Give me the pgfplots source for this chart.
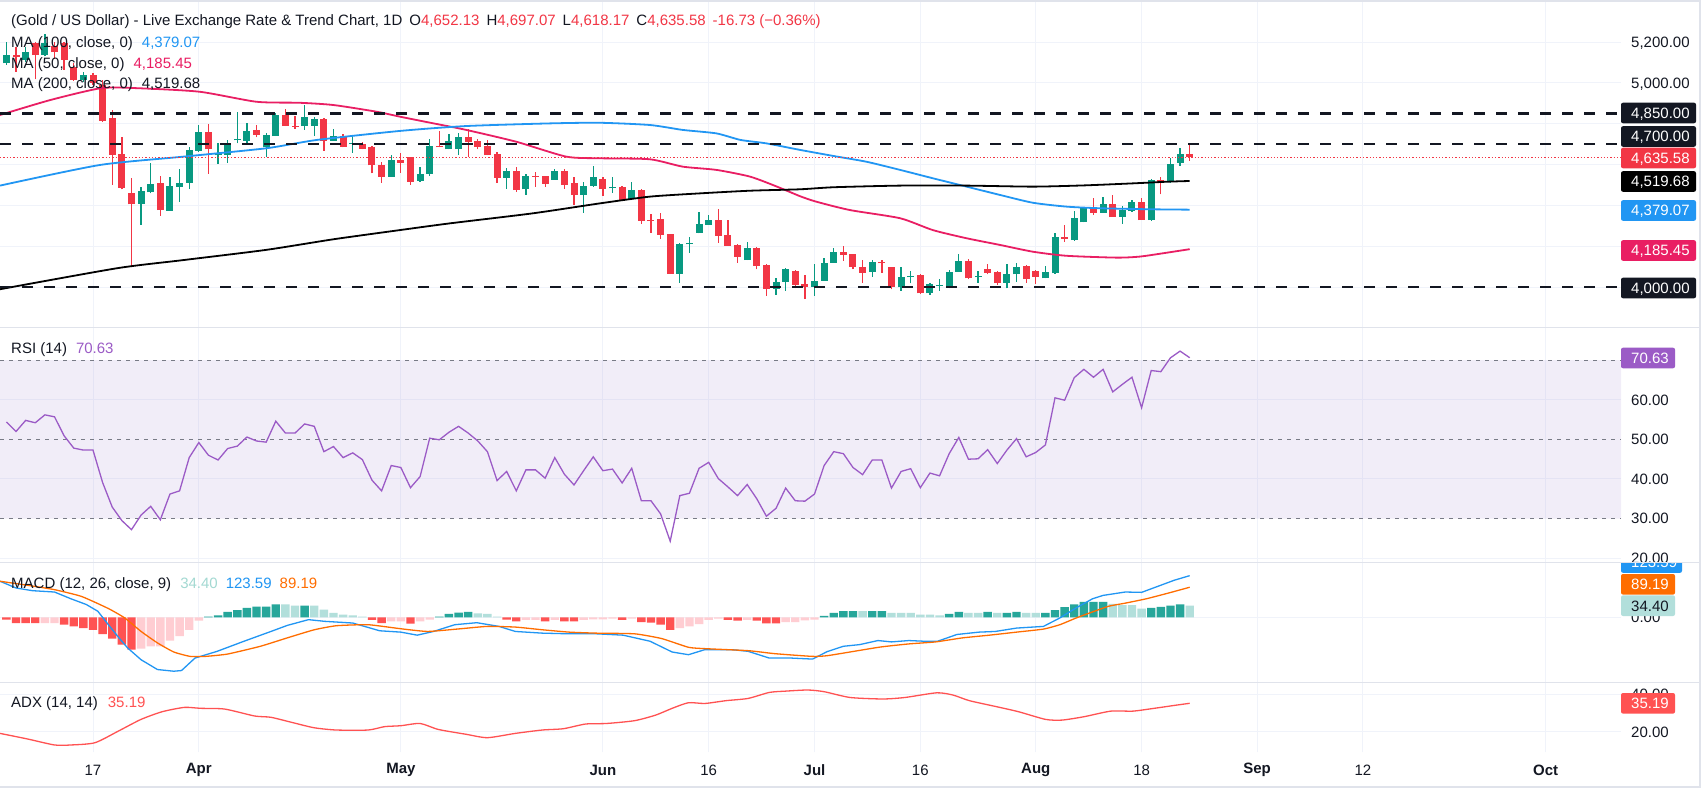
\documentclass[border=0pt]{standalone}
\usepackage{pgfplots}
\pgfplotsset{compat=1.18}
\usepackage{pgfplotstable}
\usepackage{fontspec}
\setmainfont{Liberation Sans}
\definecolor{tvgreen}{HTML}{089981}
\definecolor{tvred}{HTML}{F23645}
\definecolor{mablue}{HTML}{2196F3}
\definecolor{mapink}{HTML}{E91E63}
\definecolor{darktxt}{HTML}{131722}
\definecolor{boxdark}{HTML}{131722}
\definecolor{gridc}{HTML}{F0F3FA}
\definecolor{sepc}{HTML}{E0E3EB}
\definecolor{rsic}{HTML}{9B5BC6}
\definecolor{rsib}{HTML}{7E57C2}
\definecolor{rsidash}{HTML}{787B86}
\definecolor{hgreen}{HTML}{26A69A}
\definecolor{hteal}{HTML}{B2DFDB}
\definecolor{htealtxt}{HTML}{A3D9D2}
\definecolor{hred}{HTML}{FF5252}
\definecolor{hpink}{HTML}{FFCDD2}
\definecolor{macdorange}{HTML}{FF6D00}
\definecolor{adxred}{HTML}{FF5252}
\newcommand{\lab}{\fontsize{15pt}{18pt}\selectfont}
\newcommand{\pbox}[5][75]{\fill[#3, rounded corners=2pt] (1621pt,-#2pt) ++(0,10.3pt) rectangle ++(#1pt,-20.6pt);
  \node[anchor=base west, inner sep=0pt, text=#4, font=\lab] at ([yshift=-5.3pt]1631pt,-#2pt) {#5};}
\newcommand{\plab}[2]{\node[anchor=base west, inner sep=0pt, text=darktxt, font=\lab] at ([yshift=-5.3pt]1631pt,-#1pt) {#2};}

\pgfplotstableread{
i o h l c
-9 5096 5203 5090 5137
-7 5113 5178 5105 5154
-5 5137 5240 5130 5194
-1 5015 5055 5005 5040
5 4409 4492 4304 4471
6 4464 4606 4459 4505
8 4374 4541 4374 4495
9 4492 4577 4417 4510
10 4511 4685 4480 4672
11 4667 4794 4663 4760
13 4645 4704 4603 4652
14 4649 4721 4610 4704
15 4719 4858 4704 4724
16 4717 4802 4704 4765
18 4685 4753 4636 4745
19 4740 4851 4740 4843
22 4789 4892 4770 4832
23 4791 4832 4740 4825
25 4717 4775 4717 4740
27 4701 4740 4658 4707
31 4541 4647 4541 4622
34 4521 4590 4516 4554
35 4554 4724 4544 4691
37 4675 4750 4675 4716
38 4675 4753 4647 4737
43 4536 4582 4482 4569
45 4479 4554 4453 4544
48 4525 4577 4525 4569
51 4451 4513 4364 4497
52 4497 4593 4492 4541
54 4484 4539 4462 4492
56 4431 4513 4426 4475
61 4064 4217 4021 4211
62 4209 4245 4168 4217
63 4266 4369 4263 4309
64 4304 4351 4304 4328
68 4132 4220 4132 4189
71 3992 4042 3961 4023
72 4025 4092 3982 4088
75 4002 4113 3957 4029
76 4031 4140 4031 4116
77 4119 4190 4119 4170
81 4075 4132 4051 4121
84 3998 4096 3982 4047
85 4047 4080 4018 4055
87 3969 4018 3961 4013
88 4005 4039 3982 4011
89 4002 4083 3993 4073
90 4075 4162 4075 4127
92 4047 4080 4021 4052
95 4021 4113 3993 4062
96 4062 4119 4026 4100
99 4042 4103 4042 4075
100 4067 4266 4064 4243
102 4230 4374 4227 4338
103 4317 4394 4317 4389
105 4364 4443 4364 4407
107 4345 4397 4309 4377
108 4372 4426 4369 4417
110 4328 4528 4325 4525
112 4517 4631 4511 4603
113 4610 4681 4595 4652
}\upT

\pgfplotstableread{
i o h l c
-8 5137 5178 5056 5126
-6 5194 5203 5018 5137
-4 5180 5200 5120 5150
-3 5194 5200 5064 5113
-2 5080 5096 5011 5015
0 5040 5047 4990 5000
1 4990 5015 4810 4815
2 4827 4868 4500 4647
3 4652 4737 4479 4487
4 4459 4536 4096 4405
7 4510 4544 4350 4377
12 4760 4799 4554 4675
17 4770 4794 4734 4747
20 4843 4871 4789 4791
21 4791 4838 4775 4786
24 4824 4828 4668 4717
26 4740 4750 4685 4688
28 4701 4712 4675 4678
29 4686 4690 4557 4596
30 4598 4614 4511 4541
32 4622 4658 4560 4609
33 4637 4637 4500 4516
36 4691 4765 4685 4685
39 4734 4773 4639 4712
40 4716 4724 4675 4688
41 4691 4721 4647 4647
42 4652 4663 4511 4536
44 4569 4588 4466 4475
46 4546 4565 4492 4541
47 4544 4544 4492 4505
49 4569 4577 4482 4500
50 4508 4538 4402 4451
53 4530 4541 4448 4482
55 4492 4495 4426 4426
57 4475 4479 4309 4324
58 4328 4356 4266 4323
59 4332 4361 4235 4257
60 4260 4260 4064 4064
65 4328 4381 4217 4252
66 4255 4328 4201 4201
67 4206 4209 4119 4149
69 4193 4198 4087 4103
70 4108 4113 3956 3992
73 4080 4083 3993 4010
74 4015 4059 3940 4002
78 4170 4201 4129 4157
79 4162 4162 4088 4100
80 4100 4132 4021 4070
82 4121 4132 4070 4116
83 4096 4100 3988 3998
86 4057 4062 3966 3969
91 4127 4136 4039 4042
93 4088 4113 4062 4070
94 4075 4080 4010 4021
97 4103 4108 4021 4038
98 4080 4083 4015 4051
101 4243 4304 4222 4235
104 4389 4438 4353 4364
106 4407 4453 4345 4345
109 4417 4435 4328 4328
111 4525 4538 4454 4516
114 4652.13 4697.07 4618.17 4635.58
}\dnT

\pgfplotsset{tvaxis/.style={scale only axis, width=1621pt, xmin=-9.6674, xmax=158.836,
  axis line style={draw=none}, tick style={draw=none},
  xtick={0,11,32,53,64,75,86,98,109,121,132,151},
  xticklabels={}, yticklabels={}, grid=major,
  major grid style={draw=gridc, line width=1pt}, anchor=north west}}

\begin{document}
\begin{tikzpicture}
\fill[white] (0,0) rectangle (1702pt,-791pt);

% ---------------- price panel
\begin{axis}[tvaxis, at={(0pt,-2pt)}, height=325.7pt, ymin=3800.5, ymax=5397.06,
  ytick={4000,4200,4400,4600,4800,5000,5200}]
\addplot[draw=none, mark=none, forget plot, error bars/.cd, y dir=plus, y explicit, error mark=none,
  error bar style={draw=tvgreen, line width=1.3pt}]
  table[x=i, y=l, y error plus expr=\thisrow{h}-\thisrow{l}] {\upT};
\addplot[draw=none, mark=none, forget plot, error bars/.cd, y dir=plus, y explicit, error mark=none,
  error bar style={draw=tvred, line width=1.3pt}]
  table[x=i, y=l, y error plus expr=\thisrow{h}-\thisrow{l}] {\dnT};
\addplot[draw=none, mark=none, forget plot, error bars/.cd, y dir=plus, y explicit, error mark=none,
  error bar style={draw=tvgreen, line width=7pt}]
  table[x=i, y=o, y error plus expr=\thisrow{c}-\thisrow{o}] {\upT};
\addplot[draw=none, mark=none, forget plot, error bars/.cd, y dir=plus, y explicit, error mark=none,
  error bar style={draw=tvred, line width=7pt}]
  table[x=i, y=c, y error plus expr=\thisrow{o}-\thisrow{c}] {\dnT};
% MA 50
\addplot[mapink, line width=1.8pt, smooth, tension=0.4, mark=none] coordinates {
(-9.67,4843) (-4.4,4917) (0.9,4975) (4.9,4974) (11.1,4957) (17,4908) (21.5,4903) (25,4892) (29.5,4859) (31.9,4835) (35.4,4802) (38.8,4770) (44,4712) (49.2,4639) (52.7,4631) (57.9,4626) (61.3,4590) (64.8,4574) (68.3,4541) (71.1,4492) (73.5,4445) (75.2,4418) (78.7,4377) (83.9,4337) (87.3,4279) (90.8,4239) (94.3,4206) (97.7,4173) (101.2,4153) (106.4,4144) (108.8,4149) (111.6,4168) (114,4185.45)};
% MA 100
\addplot[mablue, line width=1.8pt, smooth, tension=0.4, mark=none] coordinates {
(-9.67,4497) (0.7,4598) (9.4,4639) (18,4680) (23.3,4721) (31.9,4765) (38.8,4789) (47.5,4802) (52.7,4805) (57.9,4794) (61.3,4770) (64.8,4753) (67.3,4721) (70,4704) (73.5,4672) (77,4642) (80.4,4614) (83.9,4574) (87.3,4533) (90.8,4492) (94.3,4451) (97.7,4413) (101.2,4394) (104.7,4386) (109.9,4381) (114,4379.07)};
% MA 200
\addplot[black, line width=1.8pt, smooth, tension=0.4, mark=none] coordinates {
(-9.67,3989) (2.5,4092) (9.4,4132) (18,4182) (25,4234) (31.9,4279) (37.1,4312) (45.7,4361) (52.7,4410) (57.9,4443) (63.1,4459) (68.3,4472) (73.5,4479) (77,4489) (83.9,4497) (90.8,4497) (97.7,4492) (103,4498) (108.1,4508) (111.6,4516) (114,4519.68)};
% horizontal levels
\addplot[boxdark, line width=2.4pt, dash pattern=on 11pt off 11pt, mark=none] coordinates {(-9.6674,4850) (158.836,4850)};
\addplot[boxdark, line width=2.4pt, dash pattern=on 11pt off 11pt, mark=none] coordinates {(-9.6674,4700) (158.836,4700)};
\addplot[boxdark, line width=2.4pt, dash pattern=on 11pt off 11pt, mark=none] coordinates {(-9.6674,4000) (158.836,4000)};
\addplot[tvred, line width=1pt, dash pattern=on 1.3pt off 2pt, mark=none] coordinates {(-9.6674,4635.58) (158.836,4635.58)};
\end{axis}

% ---------------- RSI panel
\begin{axis}[tvaxis, at={(0pt,-327.7pt)}, height=234.6pt, ymin=18.96, ymax=78.21, ytick={20,40,60}]
\addplot[draw=none, fill=rsib, fill opacity=0.1, mark=none] coordinates {(-9.6674,30) (158.836,30) (158.836,70) (-9.6674,70) (-9.6674,30)};
\addplot[rsidash, line width=1pt, dash pattern=on 4pt off 5pt, mark=none] coordinates {(-9.6674,70) (158.836,70)};
\addplot[rsidash, line width=1pt, dash pattern=on 4pt off 5pt, mark=none] coordinates {(-9.6674,50) (158.836,50)};
\addplot[rsidash, line width=1pt, dash pattern=on 4pt off 5pt, mark=none] coordinates {(-9.6674,30) (158.836,30)};
\addplot[rsic, line width=1.3pt, mark=none] coordinates {
(-9,54.4) (-8,52.0) (-7,54.8) (-6,54.2) (-5,56.2) (-4,55.7) (-3,50.9) (-2,47.8) (-1,47.3) (0,47.3)
(1,39.1) (2,32.9) (3,29.5) (4,27.2) (5,30.9) (6,33.1) (7,29.7) (8,36.2) (9,37.0) (10,45.4)
(11,49.2) (12,46.0) (13,44.8) (14,47.7) (15,48.3) (16,50.6) (17,49.6) (18,49.3) (19,54.6) (20,51.6)
(21,51.6) (22,53.9) (23,53.3) (24,46.9) (25,48.2) (26,45.4) (27,46.6) (28,44.9) (29,39.7) (30,37.0)
(31,43.4) (32,42.9) (33,37.8) (34,40.6) (35,50.3) (36,49.9) (37,51.8) (38,53.3) (39,51.6) (40,49.6)
(41,46.9) (42,39.6) (43,41.9) (44,37.0) (45,42.3) (46,42.3) (47,40.2) (48,45.4) (49,41.2) (50,38.5)
(51,42.1) (52,45.6) (53,42.1) (54,42.5) (55,39.0) (56,42.7) (57,34.5) (58,34.5) (59,31.2) (60,24.3)
(61,35.8) (62,36.4) (63,42.7) (64,44.2) (65,40.1) (66,38.0) (67,35.8) (68,38.6) (69,35.0) (70,30.6)
(71,32.6) (72,37.7) (73,34.5) (74,34.4) (75,36.2) (76,43.4) (77,46.9) (78,46.4) (79,42.9) (80,41.1)
(81,44.8) (82,44.8) (83,37.7) (84,41.9) (85,42.6) (86,37.8) (87,41.5) (88,40.8) (89,46.4) (90,50.5)
(91,45.0) (92,45.1) (93,47.4) (94,43.9) (95,47.3) (96,50.2) (97,45.6) (98,46.7) (99,48.6) (100,60.5)
(101,59.9) (102,65.6) (103,67.7) (104,65.7) (105,67.7) (106,62.0) (107,63.9) (108,65.7) (109,58.0) (110,67.4)
(111,67.1) (112,70.6) (113,72.3) (114,70.63)};
\end{axis}

% ---------------- MACD panel
\begin{axis}[tvaxis, at={(0pt,-562.3pt)}, height=120pt, ymin=-192.9, ymax=163.2, ytick={0}]
\addplot[ybar, bar width=8.4pt, bar shift=0pt, fill=hgreen, draw=none, forget plot] coordinates {
(12,2) (13,6) (14,16) (15,21) (16,28) (17,32) (18,32) (19,38) (22,35) (36,2) (37,10) (38,14) (39,16) (76,4) (77,13) (78,18) (79,18) (81,18) (82,18) (89,10) (90,16) (93,16) (95,13) (96,16) (99,13) (100,21) (101,30) (102,38) (103,46) (104,46) (105,46) (110,28) (111,31) (112,35) (113,38)};
\addplot[ybar, bar width=8.4pt, bar shift=0pt, fill=hteal, draw=none, forget plot] coordinates {
(20,38) (21,35) (23,35) (24,23) (25,13) (26,8) (27,6) (28,2) (40,12) (41,10) (42,2) (80,18) (83,13) (84,13) (85,13) (86,8) (87,8) (88,6) (91,13) (92,13) (94,13) (97,13) (98,13) (106,40) (107,36) (108,36) (109,26) (114,34.4)};
\addplot[ybar, bar width=8.4pt, bar shift=0pt, fill=hred, draw=none, forget plot] coordinates {
(-9,-7) (-8,-17) (-7,-17) (-6,-17) (-3,-22) (-2,-27) (-1,-32) (0,-37) (1,-50) (2,-63) (3,-81) (4,-96) (29,-8) (30,-17) (33,-19) (43,-7) (44,-12) (47,-12) (49,-12) (50,-12) (55,-8) (57,-14) (58,-16) (59,-22) (60,-37) (66,-8) (67,-10) (69,-10) (70,-18) (71,-18)};
\addplot[ybar, bar width=8.4pt, bar shift=0pt, fill=hpink, draw=none, forget plot] coordinates {
(-5,-17) (-4,-17) (5,-93) (6,-86) (7,-86) (8,-69) (9,-56) (10,-37) (11,-10) (31,-12) (32,-12) (34,-12) (35,-7) (45,-8) (46,-8) (48,-8) (51,-8) (52,-6) (53,-6) (54,-4) (56,-4) (61,-32) (62,-27) (63,-20) (64,-8) (65,-4) (68,-8) (72,-14) (73,-14) (74,-9) (75,-7)};
\addplot[mablue, line width=1.3pt, mark=none] coordinates {
(-9.67,107) (-8,87) (-6.3,79) (-4,75) (-2.3,55) (-0.7,38) (0.5,18) (1.6,-22) (2.7,-61) (3.6,-91) (5,-126) (6.7,-155) (8.4,-160) (9.2,-158) (10.6,-121) (12.9,-101) (15.7,-71) (18.5,-42) (20.2,-24) (22.4,-7) (24.1,-12) (27,-17) (29.8,-40) (32,-44) (33.7,-53) (35.4,-42) (37.6,-22) (39.9,-16) (42.2,-27) (43.9,-42) (46.7,-47) (49.5,-49) (52.3,-49) (55.1,-53) (57.9,-71) (60.2,-103) (61.9,-111) (63.6,-96) (66.4,-96) (68.1,-101) (70.3,-121) (72.6,-121) (74.8,-124) (76.3,-102) (78,-86) (79.7,-81) (81.6,-69) (83,-73) (84.8,-69) (86.4,-71) (87.8,-71) (89.8,-51) (92.1,-44) (93.8,-42) (96,-32) (98.8,-27) (100.5,-2) (102.2,28) (103.9,55) (105,65) (107.3,75) (109,74) (110.7,92) (112.4,110) (114,123.59)};
\addplot[macdorange, line width=1.3pt, mark=none, smooth, tension=0.3] coordinates {
(-9.67,107) (-6.8,95) (-4,82) (-1.2,62) (1.6,26) (3.3,-2) (5,-42) (6.7,-76) (8.4,-103) (10.1,-116) (11.7,-116) (14,-109) (17.4,-86) (20.2,-61) (23,-37) (25.3,-25) (28.6,-22) (32,-34) (34.8,-42) (38.2,-34) (41,-27) (43.9,-29) (46.7,-37) (49.5,-44) (52.3,-47) (56.3,-49) (59.1,-63) (61.9,-89) (63.6,-93) (68.1,-99) (70.9,-108) (74.8,-116) (76.3,-114) (79.1,-101) (81.9,-88) (84.8,-79) (87.6,-73) (90.4,-61) (93.2,-53) (96,-44) (98.8,-35) (100.5,-22) (102.2,-2) (103.9,16) (105.6,33) (107.3,42) (109.5,55) (111.8,72) (114,89.19)};
\end{axis}

% ---------------- ADX panel
\begin{axis}[tvaxis, at={(0pt,-682.3pt)}, height=69.7pt, ymin=9.14, ymax=46.42, ytick={20,40},
  xticklabels={17,\textbf{Apr},\textbf{May},\textbf{Jun},16,\textbf{Jul},16,\textbf{Aug},18,\textbf{Sep},12,\textbf{Oct}},
  xticklabel style={font=\lab, text=darktxt, anchor=center, yshift=-18pt}]
\addplot[adxred, line width=1.3pt, mark=none, smooth, tension=0.4] coordinates {
(-9.67,19.1) (-6.8,16.1) (-4,12.9) (-2.3,12.9) (0.2,14.1) (2.7,20.5) (5,26.6) (7.2,30.7) (9.5,33.0) (11.2,32.5) (13.7,32.1) (16.8,28.4) (18.5,27.7) (20.8,24.8) (23,22.1) (25.3,20.9) (28.6,20.9) (30.3,22.7) (32,23.2) (34,24.4) (35.9,21.2) (38.8,18.6) (41,16.8) (43.9,19.1) (46.7,20.9) (48.9,21.6) (51.2,24.1) (53.4,24.4) (56.3,25.9) (58.5,28.9) (60.2,32.5) (61.9,35.5) (63.6,35.1) (65.8,36.6) (68.1,37.8) (70.3,41.0) (72,41.7) (74.3,42.3) (76,41.4) (78.7,38.3) (82.1,37.5) (84.4,38.3) (87.7,40.8) (89.4,39.6) (91.1,36.6) (93.9,33.4) (96.2,30.7) (99,26.6) (100.7,26.2) (103,28.0) (105.8,31.0) (108.1,31.0) (110.3,32.5) (112.6,34.2) (114,35.19)};
\end{axis}

% ---------------- legends
\node[anchor=base west, inner sep=0pt, font=\lab, text=darktxt] at (11pt,-26pt)
  {(Gold / US Dollar) - Live Exchange Rate \& Trend Chart, 1D\hspace{7pt}O{\color{tvred}4,652.13}\hspace{7pt}H{\color{tvred}4,697.07}\hspace{7pt}L{\color{tvred}4,618.17}\hspace{7pt}C{\color{tvred}4,635.58}\hspace{7pt}{\color{tvred}-16.73 (−0.36\%)}};
\node[anchor=base west, inner sep=0pt, font=\lab, text=darktxt] at (11pt,-47.3pt) {MA (100, close, 0)\hspace{9pt}{\color{mablue}4,379.07}};
\node[anchor=base west, inner sep=0pt, font=\lab, text=darktxt] at (11pt,-68.3pt) {MA (50, close, 0)\hspace{9pt}{\color{mapink}4,185.45}};
\node[anchor=base west, inner sep=0pt, font=\lab, text=darktxt] at (11pt,-89pt) {MA (200, close, 0)\hspace{9pt}4,519.68};
\node[anchor=base west, inner sep=0pt, font=\lab, text=darktxt] at (11pt,-353pt) {RSI (14)\hspace{9pt}{\color{rsic}70.63}};
\node[anchor=base west, inner sep=0pt, font=\lab, text=darktxt] at (11pt,-588.7pt) {MACD (12, 26, close, 9)\hspace{9pt}{\color{htealtxt}34.40}\hspace{8pt}{\color{mablue}123.59}\hspace{8pt}{\color{macdorange}89.19}};
\node[anchor=base west, inner sep=0pt, font=\lab, text=darktxt] at (11pt,-707.3pt) {ADX (14, 14)\hspace{10pt}{\color{adxred}35.19}};

% ---------------- right scale
\plab{42.7}{5,200.00}
\plab{83}{5,000.00}
\pbox{113}{boxdark}{white}{4,850.00}
\pbox{136.5}{boxdark}{white}{4,700.00}
\pbox{158}{tvred}{white}{4,635.58}
\pbox{181.5}{black}{white}{4,519.68}
\pbox{210.5}{mablue}{white}{4,379.07}
\pbox{250.5}{mapink}{white}{4,185.45}
\pbox{288}{boxdark}{white}{4,000.00}
\pbox[54]{358}{rsic}{white}{70.63}
\plab{400.2}{60.00}
\plab{439.4}{50.00}
\plab{479.4}{40.00}
\plab{518.6}{30.00}
\begin{scope}
\clip (1610pt,-327.7pt) rectangle (1702pt,-562.3pt);
\plab{558.3}{20.00}
\end{scope}
\plab{617.3}{0.00}
\begin{scope}
\clip (1610pt,-562.3pt) rectangle (1702pt,-682.3pt);
\pbox[61]{562.5}{mablue}{white}{123.59}
\end{scope}
\pbox[54]{584.3}{macdorange}{white}{89.19}
\pbox[54]{605.7}{hteal}{darktxt}{34.40}
\plab{694.3}{40.00}
\pbox[54]{703.3}{adxred}{white}{35.19}
\plab{731.7}{20.00}

% ---------------- separators and frame
\draw[sepc, line width=1.2pt] (0,-327.7pt) -- (1700pt,-327.7pt);
\draw[sepc, line width=1.2pt] (0,-562.3pt) -- (1700pt,-562.3pt);
\draw[sepc, line width=1.2pt] (0,-682.3pt) -- (1700pt,-682.3pt);
\draw[sepc, line width=1.5pt] (0,-1pt) -- (1700pt,-1pt) -- (1700pt,-787pt) -- (0,-787pt);

\pgfresetboundingbox
\path[use as bounding box] (0,0) rectangle (1702pt,-791pt);
\end{tikzpicture}
\end{document}
